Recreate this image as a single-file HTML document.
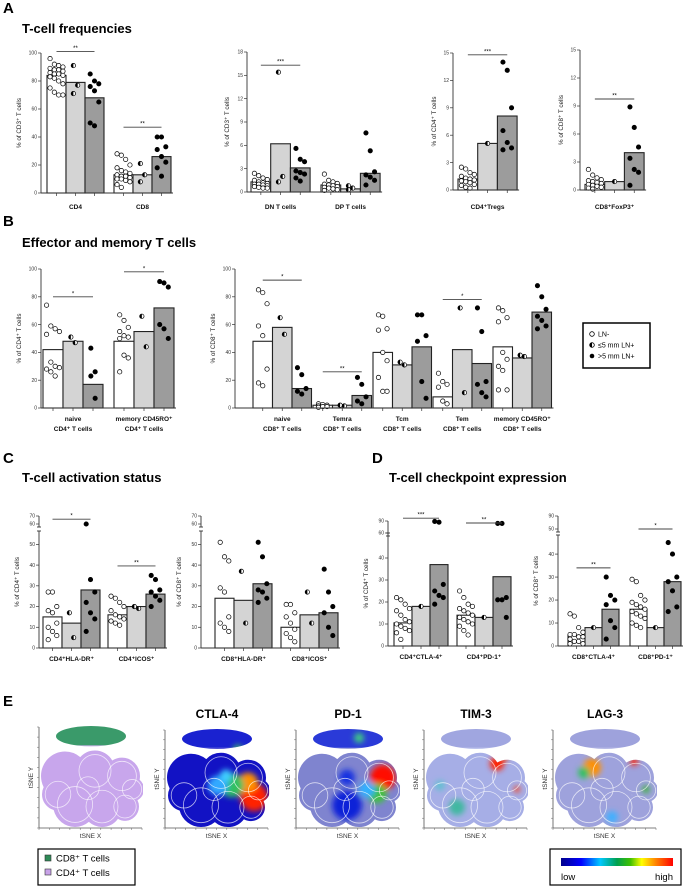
<!DOCTYPE html>
<html><head><meta charset="utf-8"><style>
html,body{margin:0;padding:0;background:#fff;}
svg{display:block;font-family:"Liberation Sans",Arial,sans-serif;}
.lt{font-weight:bold;font-size:15px;}
.tt{font-weight:bold;font-size:13px;}
</style></head><body>
<svg id="fig" width="691" height="887" viewBox="0 0 691 887">
<defs>
<linearGradient id="cbar" x1="0" x2="1" y1="0" y2="0">
<stop offset="0" stop-color="#00008b"/><stop offset="0.18" stop-color="#0000ff"/><stop offset="0.35" stop-color="#00c8ff"/><stop offset="0.5" stop-color="#00a050"/><stop offset="0.62" stop-color="#40c000"/><stop offset="0.72" stop-color="#ffff00"/><stop offset="0.85" stop-color="#ff8000"/><stop offset="1" stop-color="#ff0000"/>
</linearGradient>
<filter id="blur"><feGaussianBlur stdDeviation="3"/></filter>
</defs>
<text class="lt" x="3" y="13">A</text>
<text class="tt" x="22" y="33">T-cell frequencies</text>
<text class="lt" x="3" y="226">B</text>
<text class="tt" x="22" y="247">Effector and memory T cells</text>
<text class="lt" x="3" y="463">C</text>
<text class="tt" x="22" y="482">T-cell activation status</text>
<text class="lt" x="372" y="463">D</text>
<text class="tt" x="389" y="482">T-cell checkpoint expression</text>
<text class="lt" x="3" y="706">E</text>

<g>
<rect x="583" y="323" width="67" height="45" fill="#fff" stroke="#000" stroke-width="1.5"/>
<circle cx="592" cy="334" r="2.3" fill="#fff" stroke="#000" stroke-width="0.8"/>
<circle cx="592" cy="345" r="2.3" fill="#fff" stroke="#000" stroke-width="0.8"/>
<path d="M592,342.7 A2.3,2.3 0 0 0 592,347.3 Z" fill="#000"/>
<circle cx="592" cy="356" r="2.3" fill="#000"/>
<text x="598" y="336.5" font-size="7">LN-</text>
<text x="598" y="347.5" font-size="7">≤5 mm LN+</text>
<text x="598" y="358.5" font-size="7">&gt;5 mm LN+</text>
</g>

<g>
<rect x="38" y="849" width="97" height="36" fill="#fff" stroke="#000" stroke-width="1.2"/>
<rect x="45" y="855" width="6" height="6" fill="#2e8b57" stroke="#333" stroke-width="0.6"/>
<text x="56" y="861.5" font-size="9.5">CD8⁺ T cells</text>
<rect x="45" y="869" width="6" height="6" fill="#c8a2e8" stroke="#333" stroke-width="0.6"/>
<text x="56" y="876" font-size="9.5">CD4⁺ T cells</text>
</g>
<g>
<rect x="550" y="849" width="131" height="36" fill="#fff" stroke="#000" stroke-width="1.2"/>
<rect x="561" y="858" width="112" height="8" fill="url(#cbar)"/>
<text x="561" y="880" font-size="9.5">low</text>
<text x="673" y="880" font-size="9.5" text-anchor="end">high</text>
</g>
</svg>
<script>
// ---------- DATA ----------
const A1_cats=[["CD4"],["CD8"]];
const A1_bars=[[84,79,68],[13,13,26]];
const A1_pts=[[[96,92,91,90,89,88,88,87,86,85,85,84,83,82,80,78,75,72,70,70],[91,77,71],[85,80,78,76,73,65,50,48]],
 [[28,27,24,20,18,16,15,14,13,12,12,11,10,10,9,8,6,4],[21,13,8],[40,40,33,31,26,22,18,12]]];
const A1_ticks=[0,20,40,60,80,100];
const A1_sigs=[[0,101,"**"],[1,47,"**"]];

const A2_cats=[["DN T cells"],["DP T cells"]];
const A2_bars=[[1.3,6.2,3.1],[0.9,0.4,2.4]];
const A2_pts=[[[2.4,2.1,1.8,1.6,1.5,1.3,1.2,1.1,1,1,0.9,0.8,0.7,0.6,0.5,0.5],[15.4,2.0,1.3],[5.6,4.2,3.9,2.7,2.5,2.3,1.8,1.4]],
 [[2.3,1.5,1.3,1.1,1,0.9,0.8,0.7,0.6,0.5,0.4,0.3,0.2],[0.8,0.5,0.3],[7.6,5.3,2.6,2.2,1.9,1.5,0.9]]];
const A2_ticks=[0,3,6,9,12,15,18];
const A2_sigs=[[0,16.3,"***"]];

const A3_cats=[["CD4⁺Tregs"]];
const A3_bars=[[1.2,5.1,8.1]];
const A3_pts=[[[2.5,2.3,1.9,1.7,1.5,1.3,1.2,1.1,1,0.9,0.8,0.6,0.5,0.3,0.2],[5.1],[14,13.1,9,6.5,5.2,4.6,4.4]]];
const A3_ticks=[0,3,6,9,12,15];
const A3_sigs=[[0,14.8,"***"]];

const A4_cats=[["CD8⁺FoxP3⁺"]];
const A4_bars=[[0.6,0.9,4.0]];
const A4_pts=[[[2.2,1.6,1.3,1.1,1,0.9,0.8,0.7,0.6,0.5,0.4,0.3,0.2,0.1],[0.9],[8.9,6.7,4.6,3.4,2.2,1.9,0.5]]];
const A4_ticks=[0,3,6,9,12,15];
const A4_sigs=[[0,9.75,"**"]];

const B1_cats=[["naive","CD4⁺ T cells"],["memory CD45RO⁺","CD4⁺ T cells"]];
const B1_bars=[[42,48,17],[48,55,72]];
const B1_pts=[[[74,59,57,55,53,33,30,29,28,26,23],[51,47],[43,26,23,7]],
 [[67,63,58,55,52,51,50,38,36,26],[66,44],[91,90,87,60,57,50]]];
const B1_ticks=[0,20,40,60,80,100];
const B1_sigs=[[0,80,"*"],[1,98,"*"]];

const B2_cats=[["naive","CD8⁺ T cells"],["Temra","CD8⁺ T cells"],["Tcm","CD8⁺ T cells"],["Tem","CD8⁺ T cells"],["memory CD45RO⁺","CD8⁺ T cells"]];
const B2_bars=[[48,58,14],[2,2,9],[40,31,44],[8,42,32],[44,36,69]];
const B2_pts=[[[85,83,75,59,52,28,18,16],[65,53],[29,24,14,12,10]],
 [[3,2.5,2,1.5,1,1,0.5],[2,1.5],[22,17,8,5,3]],
 [[67,66,57,56,40,34,22,12,12],[33,31],[67,67,52,48,19,7]],
 [[25,19,17,15,5,3],[72,11],[72,55,19,17,11,8]],
 [[72,70,65,62,40,35,30,27,13,13],[38,37],[88,80,71,66,63,59,57]]];
const B2_ticks=[0,20,40,60,80,100];
const B2_sigs=[[0,92,"*"],[1,26,"**"],[3,78,"*"]];

const C1_cats=[["CD4⁺HLA-DR⁺"],["CD4⁺ICOS⁺"]];
const C1_bars=[[15,12,28],[16,20,26]];
const C1_pts=[[[27,27,20,18,17,12,10,8,6,4],[17,5],[60,33,27,22,17,14,8]],
 [[25,24,22,20,18,16,15,14,13,12,11],[20,19],[35,33,28,27,25,23,20]]];
const C1_ticks=[0,10,20,30,40,50];
const C1_upTicks=[60,70];
const C1_sigs=[[0,66,"*"],[1,39.6,"**"]];

const C2_cats=[["CD8⁺HLA-DR⁺"],["CD8⁺ICOS⁺"]];
const C2_bars=[[24,23,31],[10,16,17]];
const C2_pts=[[[51,44,42,29,27,15,12,10,8],[37,12],[51,44,31,28,27,24,22]],
 [[21,21,17,15,12,9,7,5,3],[27,12],[38,27,20,17,10,6]]];
const C2_ticks=[0,10,20,30,40,50];
const C2_upTicks=[60,70];
const C2_sigs=[];

const D1_cats=[["CD4⁺CTLA-4⁺"],["CD4⁺PD-1⁺"]];
const D1_bars=[[10.5,18,37],[14,13,31.5]];
const D1_pts=[[[22,21,19,17,16,14,12,11,10,9,8,7,6,3],[18],[89,87,28,25,23,22,19]],
 [[25,22,19,18,17,16,15,14,13,12,11,10,9,7,5],[13],[84,84,22,21,21,13]]];
const D1_ticks=[0,10,20,30,40];
const D1_upTicks=[60,90];
const D1_sigs=[[0,97,"***"],[1,85,"**"]];

const D2_cats=[["CD8⁺CTLA-4⁺"],["CD8⁺PD-1⁺"]];
const D2_bars=[[4.5,8,16],[16,8,28]];
const D2_pts=[[[14,13,8,6,5,5,4,4,3,2,2,1,1],[8],[30,22,20,18,11,8,3]],
 [[29,28,22,20,19,18,17,16,15,14,13,12,10,9,8],[8],[45,40,30,28,24,17,15]]];
const D2_ticks=[0,10,20,30,40];
const D2_upTicks=[50,90];
const D2_sigs=[[0,34,"**"],[1,49,"*"]];

// ---------- DRAWING ----------
const NS='http://www.w3.org/2000/svg';
const svg=document.getElementById('fig');
function mk(tag,parent){const e=document.createElementNS(NS,tag);parent.appendChild(e);return e;}
function at(e,o){for(const k in o)e.setAttribute(k,o[k]);return e;}
const FILLS=['#ffffff','#d4d4d4','#9c9c9c'];

function chart(name,cfg,cats,bars,pts,ticks,upTicks,sigs,ytitle){
  const g=mk('g',svg);
  
  
  const ys=v=>{
    if(cfg.up && v>cfg.main){const [lo,hi,plo,phi]=cfg.up;const vv=Math.max(v,lo);return plo+(vv-lo)/(hi-lo)*(phi-plo);}
    return cfg.y0-v/cfg.main*(cfg.y0-cfg.ytop);
  };
  const bx=(gi,bi)=>cfg.g0+gi*cfg.gs+bi*cfg.bw;
  bars.forEach((grp,gi)=>grp.forEach((v,bi)=>{
    const r=mk('rect',g);
    at(r,{x:bx(gi,bi),y:ys(v),width:cfg.bw,height:cfg.y0-ys(v),fill:FILLS[bi],stroke:'#222','stroke-width':1.1});
    
    
  }));
  pts.forEach((grp,gi)=>grp.forEach((list,bi)=>{
    const n=list.length;const cols=n>10?4:(n>4?3:2);
    const cx0=bx(gi,bi)+cfg.bw/2;
    list.forEach((v,j)=>{
      const col=j%cols;const dx=n===1?0:(col-(cols-1)/2)*4.3;
      const cx=cx0+dx,cy=ys(v);
      const c=mk('circle',g);
      at(c,{cx:cx,cy:cy,r:2.2,fill:bi===2?'#000':'#fff',stroke:'#000','stroke-width':0.7});
      
      
      if(bi===1){const p=mk('path',g);at(p,{d:`M${cx},${cy-2.2} A2.2,2.2 0 0 0 ${cx},${cy+2.2} Z`,fill:'#000'});}
    });
  }));
  const ax=cfg.ax;
  const yl=mk('line',g);
  at(yl,{x1:ax,x2:ax,y1:cfg.y0,y2:cfg.up?cfg.ytop-3:cfg.ytop,stroke:'#333','stroke-width':0.9});
  
  
  if(cfg.up){
    const ul=mk('line',g);
    at(ul,{x1:ax,x2:ax,y1:cfg.up[2]+3,y2:cfg.up[3],stroke:'#333','stroke-width':0.9});
    
    
    [cfg.ytop-3,cfg.up[2]+3].forEach(y=>{const b=mk('line',g);at(b,{x1:ax-2,x2:ax+2,y1:y,y2:y,stroke:'#333','stroke-width':0.9});});
  }
  const allT=ticks.concat(upTicks||[]);
  allT.forEach(t=>{
    const y=ys(t);
    const tl=mk('line',g);at(tl,{x1:ax-3,x2:ax,y1:y,y2:y,stroke:'#333','stroke-width':0.7});
    const tx=mk('text',g);at(tx,{x:ax-4,y:y+1.7,'font-size':5,'text-anchor':'end',fill:'#333'});
    tx.textContent=t;
    
    
  });
  const ymid=(cfg.y0+(cfg.up?cfg.up[3]:cfg.ytop))/2;
  const yt=mk('text',g);
  at(yt,{x:0,y:0,'font-size':6.3,'text-anchor':'middle',fill:'#222',transform:`translate(${ax-cfg.tOff},${ymid}) rotate(-90)`});
  yt.textContent=ytitle;
  
  
  const last=bx(bars.length-1,2)+cfg.bw;
  const xl=mk('line',g);
  at(xl,{x1:ax,x2:last+2,y1:cfg.y0,y2:cfg.y0,stroke:'#333','stroke-width':0.9});
  
  
  bars.forEach((grp,gi)=>grp.forEach((v,bi)=>{
    const x=bx(gi,bi)+cfg.bw/2;const t=mk('line',g);at(t,{x1:x,x2:x,y1:cfg.y0,y2:cfg.y0+3,stroke:'#333','stroke-width':0.7});
  }));
  cats.forEach((lines,gi)=>{
    const cx=bx(gi,0)+cfg.bw*1.5;
    lines.forEach((s,li)=>{
      const t=mk('text',g);
      at(t,{x:cx,y:cfg.y0+cfg.ly+li*10,'font-size':6.5,'font-weight':'bold','text-anchor':'middle',fill:'#111'});
      t.textContent=s;
      
      
    });
  });
  sigs.forEach(([gi,v,s])=>{
    const x1=bx(gi,0)+cfg.bw/2,x2=bx(gi,2)+cfg.bw/2,y=ys(v);
    const l=mk('line',g);at(l,{x1:x1,x2:x2,y1:y,y2:y,stroke:'#444','stroke-width':0.9});
    
    
    const t=mk('text',g);at(t,{x:(x1+x2)/2,y:y-1.5,'font-size':6,'text-anchor':'middle'});
    t.textContent=s;
    
    
  });
}

chart('chart-cd4-cd8',{ax:41,y0:193,ytop:53,main:100,g0:47,gs:67,bw:19,ly:16,tOff:20},A1_cats,A1_bars,A1_pts,A1_ticks,null,A1_sigs,'% of CD3⁺ T cells');
chart('chart-dn-dp',{ax:247,y0:192,ytop:52,main:18,g0:251,gs:70,bw:19.7,ly:17,tOff:18},A2_cats,A2_bars,A2_pts,A2_ticks,null,A2_sigs,'% of CD3⁺ T cells');
chart('chart-tregs',{ax:453,y0:190,ytop:53,main:15,g0:458,gs:0,bw:19.7,ly:19,tOff:17},A3_cats,A3_bars,A3_pts,A3_ticks,null,A3_sigs,'% of CD4⁺ T cells');
chart('chart-foxp3',{ax:580,y0:190,ytop:50,main:15,g0:585,gs:0,bw:19.7,ly:19,tOff:17},A4_cats,A4_bars,A4_pts,A4_ticks,null,A4_sigs,'% of CD8⁺ T cells');
chart('chart-cd4-memory',{ax:41,y0:408,ytop:269,main:100,g0:43,gs:71,bw:20,ly:13,tOff:20},B1_cats,B1_bars,B1_pts,B1_ticks,null,B1_sigs,'% of CD4⁺ T cells');
chart('chart-cd8-memory',{ax:235,y0:408,ytop:269,main:100,g0:253,gs:60,bw:19.5,ly:13,tOff:20},B2_cats,B2_bars,B2_pts,B2_ticks,null,B2_sigs,'% of CD8⁺ T cells');
chart('chart-cd4-activation',{ax:39,y0:648,ytop:534,main:55,up:[60,70,524,516],g0:43,gs:65,bw:19,ly:13,tOff:20},C1_cats,C1_bars,C1_pts,C1_ticks,C1_upTicks,C1_sigs,'% of CD4⁺ T cells');
chart('chart-cd8-activation',{ax:201,y0:648,ytop:534,main:55,up:[60,70,524,516],g0:215,gs:66,bw:19,ly:13,tOff:20},C2_cats,C2_bars,C2_pts,C2_ticks,C2_upTicks,C2_sigs,'% of CD8⁺ T cells');
chart('chart-cd4-checkpoint',{ax:388,y0:646,ytop:536,main:50,up:[60,90,533,521],g0:394,gs:63,bw:18,ly:13,tOff:20},D1_cats,D1_bars,D1_pts,D1_ticks,D1_upTicks,D1_sigs,'% of CD4⁺ T cells');
chart('chart-cd8-checkpoint',{ax:558,y0:646,ytop:538,main:47,up:[50,90,529,516],g0:568,gs:62,bw:17,ly:13,tOff:20},D2_cats,D2_bars,D2_pts,D2_ticks,D2_upTicks,D2_sigs,'% of CD8⁺ T cells');

// ---------- tSNE ----------
const BODY=[[25,50,24],[55,45,20],[82,50,18],[92,63,12],[35,78,22],[62,80,20],[85,80,14],[18,68,16],[48,62,14]];
const TSNE_TITLES=['','CTLA-4','PD-1','TIM-3','LAG-3'];
const TSNE_AX=[39,165,296,424,553];
const TSNE_BASE=[null,'#1212c4','#7f84cf','#a6aee6','#9ea2dc'];
const TSNE_TOPBASE=[null,'#1a22d0','#2a3ad8','#a0a6e0','#9ea2dc'];
const HOT=[[],
 [[88,70,14,'#ff2000'],[82,55,10,'#ff9000'],[66,58,12,'#30c060'],[52,58,10,'#30a8ff'],[72,22,5,'#40c060'],[60,48,6,'#40d0ff']],
 [[86,50,13,'#ff1000'],[80,66,10,'#40c040'],[50,78,15,'#1020d8'],[50,50,8,'#1830e0'],[62,10,5,'#40d080'],[70,62,8,'#30b0ff']],
 [[72,36,7,'#ff2000'],[80,30,3,'#ff4000'],[32,80,8,'#40b8a0'],[92,62,3,'#ff3000'],[15,58,5,'#60c0d0']],
 [[38,40,9,'#ff9000'],[80,34,4,'#ff2000'],[92,62,4,'#40b040'],[58,90,6,'#40b0ff'],[30,45,6,'#30c060']]];
TSNE_AX.forEach((ax,i)=>{
  const g=mk('g',svg);
  
  
  const top=i===0?727:730,bot=828,w=103;
  const ox=ax+1,oy=top-2,sx=w/103,sy=(bot-top+4)/103;
  const cid='clip'+i;
  const cp=mk('clipPath',g);cp.setAttribute('id',cid);
  BODY.forEach(([x,y,r])=>{const c=mk('ellipse',cp);at(c,{cx:ox+x*sx,cy:oy+y*sy,rx:r*sx,ry:r*sy});});
  const tc=mk('ellipse',cp);at(tc,{cx:ox+51*sx,cy:oy+11*sy,rx:35*sx,ry:10*sy});
  const cg=mk('g',g);cg.setAttribute('clip-path',`url(#${cid})`);
  if(i===0){
    const b=mk('rect',cg);at(b,{x:ox,y:oy+20*sy,width:w,height:90,fill:'#c8a6ec'});
    const t=mk('rect',cg);at(t,{x:ox,y:oy,width:w,height:20*sy,fill:'#3a9a6a'});
    
    
  } else {
    const b=mk('rect',cg);at(b,{x:ox,y:oy+20*sy,width:w,height:90,fill:TSNE_BASE[i]});
    const tb=mk('rect',cg);at(tb,{x:ox,y:oy,width:w,height:20*sy,fill:TSNE_TOPBASE[i]});
    const hg=mk('g',cg);hg.setAttribute('filter','url(#blur)');
    HOT[i].forEach(([x,y,r,c])=>{const e=mk('circle',hg);at(e,{cx:ox+x*sx,cy:oy+y*sy,r:r,fill:c});});
    const t=mk('text',g);at(t,{x:ax+52,y:718,'font-size':12,'font-weight':'bold','text-anchor':'middle'});
    t.textContent=TSNE_TITLES[i];
    
    
  }
  // white lobe outlines
  BODY.slice(1).forEach(([x,y,r])=>{const c=mk('ellipse',cg);at(c,{cx:ox+x*sx,cy:oy+y*sy,rx:r*sx*0.8,ry:r*sy*0.8,fill:'none',stroke:'#fff','stroke-width':0.8,'stroke-opacity':0.7});});
  const gap=mk('line',g);at(gap,{x1:ox+15,x2:ox+90,y1:oy+22*sy,y2:oy+23*sy,stroke:'#fff','stroke-width':2.5});
  const a=mk('path',g);at(a,{d:`M${ax},${top} V${bot} H${ax+w}`,fill:'none',stroke:'#555','stroke-width':0.8});
  
  
  for(let k=0;k<=10;k++){
    const tx=mk('line',g);at(tx,{x1:ax+k*w/10,x2:ax+k*w/10,y1:bot,y2:bot+2,stroke:'#666','stroke-width':0.5});
    const ty=mk('line',g);at(ty,{x1:ax-2,x2:ax,y1:bot-k*(bot-top)/10,y2:bot-k*(bot-top)/10,stroke:'#666','stroke-width':0.5});
  }
  const xl=mk('text',g);at(xl,{x:ax+w/2,y:838,'font-size':6.5,'text-anchor':'middle',fill:'#333'});
  xl.textContent='tSNE X';
  
  
  const yl=mk('text',g);at(yl,{x:0,y:0,'font-size':6.5,'text-anchor':'middle',fill:'#333',transform:`translate(${ax-6},${(top+bot)/2}) rotate(-90)`});
  yl.textContent='tSNE Y';
  
  
});
</script>
</body></html>
